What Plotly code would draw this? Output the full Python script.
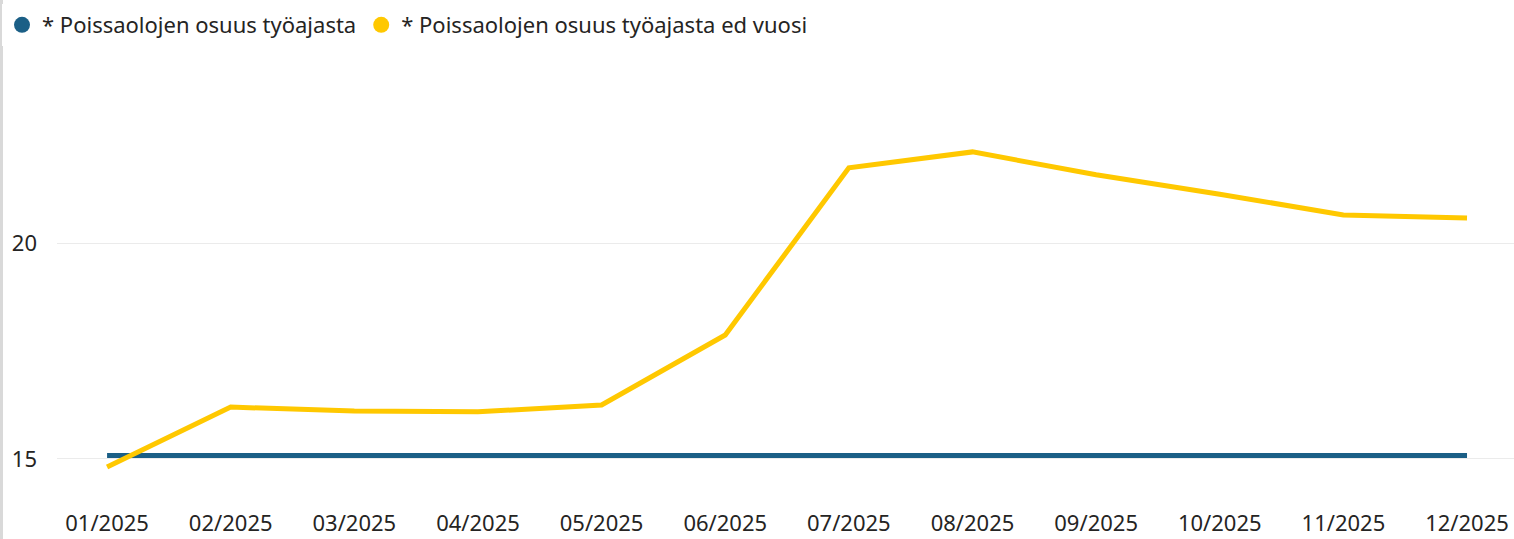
import plotly.graph_objects as go

months = ["01/2025", "02/2025", "03/2025", "04/2025", "05/2025", "06/2025",
          "07/2025", "08/2025", "09/2025", "10/2025", "11/2025", "12/2025"]
current_year = [15.08] * 12
previous_year = [14.81, 16.20, 16.11, 16.09, 16.25, 17.87,
                 21.74, 22.11, 21.58, 21.13, 20.65, 20.58]
name_cur = "* Poissaolojen osuus työajasta"
name_prev = "* Poissaolojen osuus työajasta ed vuosi"

blue = "#1B5F86"
yellow = "#FFC800"
text_col = "#252423"
font_family = "Noto Sans, Open Sans, sans-serif"

idx = list(range(len(months)))

fig = go.Figure()
fig.add_trace(go.Scatter(x=idx, y=current_year, mode="lines", line=dict(color=blue, width=5),
                         showlegend=False, name=name_cur))
fig.add_trace(go.Scatter(x=idx, y=previous_year, mode="lines", line=dict(color=yellow, width=5),
                         showlegend=False, name=name_prev))
fig.add_trace(go.Scatter(x=[None], y=[None], mode="markers", marker=dict(color=blue, size=18),
                         name=name_cur))
fig.add_trace(go.Scatter(x=[None], y=[None], mode="markers", marker=dict(color=yellow, size=18),
                         name=name_prev))

W, H = 1514, 539
ml, mr, mt, mb = 57, 0, 50, 49
pw = W - ml - mr
ph = H - mt - mb

fig.update_layout(
    width=W, height=H,
    margin=dict(l=ml, r=mr, t=mt, b=mb, autoexpand=False),
    paper_bgcolor="white", plot_bgcolor="white",
    font=dict(family=font_family, size=22, color=text_col),
    legend=dict(orientation="h", x=(2 - ml) / pw, xanchor="left", y=1 + (mt - 25) / ph,
                yanchor="middle", font=dict(size=22, color=text_col), itemsizing="trace",
                tracegroupgap=0, itemwidth=30),
    xaxis=dict(range=[-0.405, 11.38], tickmode="array", tickvals=idx, ticktext=months,
               showgrid=False, zeroline=False, showline=False, ticks="", automargin=False,
               ticklabelstandoff=18, tickfont=dict(size=22)),
    yaxis=dict(range=[14.28, 24.47], tickvals=[15, 20], showgrid=True, gridcolor="#EBEBEB",
               gridwidth=1, zeroline=False, showline=False, ticks="", automargin=False,
               ticklabelstandoff=19, tickfont=dict(size=22)),
    shapes=[dict(type="line", xref="paper", yref="paper",
                 x0=(1.5 - ml) / pw, x1=(1.5 - ml) / pw, y0=-mb / ph, y1=1 + mt / ph,
                 line=dict(color="#D9D9D9", width=3))],
)

fig.write_html("out.html", config={"displayModeBar": False},
               post_script="document.body.style.margin='0';")
